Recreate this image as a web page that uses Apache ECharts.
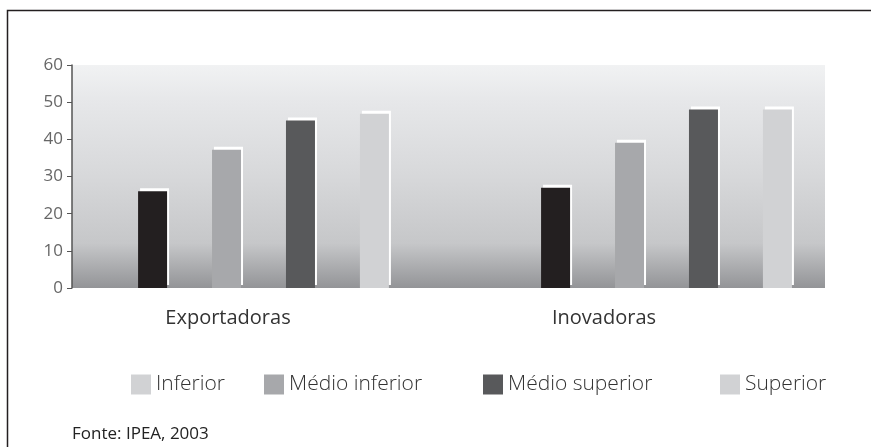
<!DOCTYPE html>
<html>
<head>
<meta charset="utf-8">
<script src="https://cdn.jsdelivr.net/npm/echarts@6/dist/echarts.min.js"></script>
<style>
  html, body { margin: 0; padding: 0; background: #ffffff; }
  #chart { width: 871px; height: 447px; }
</style>
</head>
<body>
<div id="chart"></div>
<script>
// Categories and series values
const categories = ['Exportadoras', 'Inovadoras'];
const seriesNames = ['Inferior', 'Médio inferior', 'Médio superior', 'Superior'];
const inferior = [26.0, 27.0];
const medioInferior = [37.2, 39.1];
const medioSuperior = [45.1, 48.0];
const superior = [46.9, 48.0];
const yTicks = [0, 10, 20, 30, 40, 50, 60];
const sourceText = 'Fonte: IPEA, 2003';

// Presentation
const barColors = ['#231f20', '#a7a8ab', '#58595b', '#d1d2d4'];
const legendColors = ['#d1d2d4', '#a7a8ab', '#58595b', '#d1d2d4'];
const legendLeft = [131, 264, 483, 720];
const FONT = '"Open Sans", "Noto Sans", sans-serif';

const values = [inferior, medioInferior, medioSuperior, superior];

const chart = echarts.init(document.getElementById('chart'), null, { renderer: 'canvas' });

const gridTop = 65, gridBottom = 159;

const option = {
  animation: false,
  backgroundColor: '#ffffff',
  grid: [
    // plot background + value axis
    {
      left: 72, right: 46, top: gridTop, bottom: gridBottom,
      show: true, borderWidth: 0,
      backgroundColor: new echarts.graphic.LinearGradient(0, 0, 0, 1, [
        { offset: 0, color: '#f1f2f3' },
        { offset: 0.15, color: '#e7e8ea' },
        { offset: 0.5, color: '#d7d8da' },
        { offset: 0.8, color: '#c6c7c9' },
        { offset: 1, color: '#939497' }
      ])
    },
    // bars
    { left: 62, right: 3, top: gridTop, bottom: gridBottom },
    // category labels
    { left: 40, right: 79, top: gridTop, bottom: gridBottom }
  ],
  xAxis: [
    { type: 'category', gridIndex: 0, data: categories, show: false },
    { type: 'category', gridIndex: 1, data: categories, show: false },
    {
      type: 'category', gridIndex: 2, data: categories,
      axisLine: { show: false }, axisTick: { show: false },
      axisLabel: { margin: 20, fontSize: 20, fontFamily: FONT, color: '#333333' }
    }
  ],
  yAxis: [
    {
      type: 'value', gridIndex: 0, min: yTicks[0], max: yTicks[yTicks.length - 1], interval: 10,
      axisLine: { show: true, lineStyle: { color: '#555555', width: 1.5 } },
      axisTick: { show: true, inside: false, length: 5, lineStyle: { color: '#555555', width: 1 } },
      splitLine: { show: false },
      axisLabel: { margin: 9, fontSize: 17, fontFamily: FONT, color: '#666666' }
    },
    { type: 'value', gridIndex: 1, min: yTicks[0], max: yTicks[yTicks.length - 1], show: false, splitLine: { show: false } },
    { type: 'value', gridIndex: 2, min: yTicks[0], max: yTicks[yTicks.length - 1], show: false, splitLine: { show: false } }
  ],
  legend: seriesNames.map((name, i) => ({
    show: true,
    left: legendLeft[i],
    top: 374,
    padding: 0,
    orient: 'horizontal',
    icon: 'rect',
    itemWidth: 20,
    itemHeight: 20,
    selectedMode: false,
    textStyle: { fontSize: 21, fontWeight: 300, fontFamily: FONT, color: '#333333' },
    data: [{
      name: name,
      itemStyle: { color: legendColors[i], shadowColor: 'rgba(0,0,0,0)', shadowBlur: 0, shadowOffsetX: 0, shadowOffsetY: 0, borderWidth: 0 }
    }]
  })),
  title: {
    text: sourceText,
    left: 72, top: 426,
    padding: 0,
    textStyle: { fontSize: 17, fontWeight: 'normal', fontFamily: FONT, color: '#222222' }
  },
  graphic: [{
    type: 'polyline',
    silent: true,
    shape: { points: [[7.5, 447], [7.5, 10.5], [871, 10.5]] },
    style: { stroke: '#231f20', lineWidth: 1.5, fill: null }
  }],
  series: seriesNames.map((name, i) => ({
    name: name,
    type: 'bar',
    xAxisIndex: 1,
    yAxisIndex: 1,
    data: values[i],
    barWidth: 29,
    barGap: '155%',
    itemStyle: {
      color: barColors[i],
      shadowColor: '#ffffff',
      shadowBlur: 0,
      shadowOffsetX: 2,
      shadowOffsetY: -3
    },
    emphasis: { disabled: true }
  }))
};

chart.setOption(option);
</script>
</body>
</html>
